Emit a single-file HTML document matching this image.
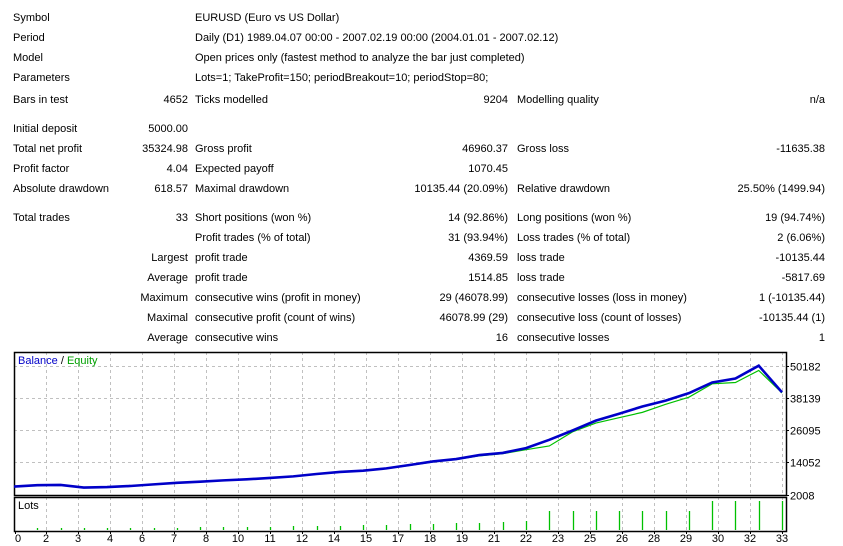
<!DOCTYPE html>
<html><head><meta charset="utf-8">
<style>
body{margin:0;width:843px;height:546px;background:#fff;font-family:"Liberation Sans","DejaVu Sans",sans-serif;font-size:11px;color:#000;position:relative;overflow:hidden}
.t{position:absolute;white-space:nowrap;line-height:13px}
.r{text-align:right}
</style></head><body>
<div id="report"></div>
<svg id="chart" width="843" height="546" style="position:absolute;left:0;top:0"></svg>
<script>
const rows=[
[18,"Symbol","", "EURUSD (Euro vs US Dollar)","","",""],
[38,"Period","", "Daily (D1) 1989.04.07 00:00 - 2007.02.19 00:00 (2004.01.01 - 2007.02.12)","","",""],
[58,"Model","", "Open prices only (fastest method to analyze the bar just completed)","","",""],
[78,"Parameters","", "Lots=1; TakeProfit=150; periodBreakout=10; periodStop=80;","","",""],
[100,"Bars in test","4652","Ticks modelled","9204","Modelling quality","n/a"],
[129,"Initial deposit","5000.00","","","",""],
[149,"Total net profit","35324.98","Gross profit","46960.37","Gross loss","-11635.38"],
[169,"Profit factor","4.04","Expected payoff","1070.45","",""],
[189,"Absolute drawdown","618.57","Maximal drawdown","10135.44 (20.09%)","Relative drawdown","25.50% (1499.94)"],
[218,"Total trades","33","Short positions (won %)","14 (92.86%)","Long positions (won %)","19 (94.74%)"],
[238,"","", "Profit trades (% of total)","31 (93.94%)","Loss trades (% of total)","2 (6.06%)"],
[258,"","Largest","profit trade","4369.59","loss trade","-10135.44"],
[278,"","Average","profit trade","1514.85","loss trade","-5817.69"],
[298,"","Maximum","consecutive wins (profit in money)","29 (46078.99)","consecutive losses (loss in money)","1 (-10135.44)"],
[318,"","Maximal","consecutive profit (count of wins)","46078.99 (29)","consecutive loss (count of losses)","-10135.44 (1)"],
[338,"","Average","consecutive wins","16","consecutive losses","1"]];
const rep=document.getElementById('report');
function cell(txt,x,y,right,name){if(!txt)return;const d=document.createElement('div');


d.className='t'+(right?' r':'');d.textContent=txt;d.style.top=(y-6)+'px';
if(right){d.style.right=(843-x)+'px';}else d.style.left=x+'px';rep.appendChild(d);}
rows.forEach(r=>{cell(r[1],13,r[0],false,'row-label');cell(r[2],188,r[0],true,'row-value');
cell(r[3],195,r[0],false,'col2-label');cell(r[4],508,r[0],true,'col2-value');
cell(r[5],517,r[0],false,'col3-label');cell(r[6],825,r[0],true,'col3-value');});

// chart data
const balance=[5000,5500,5600,4600,4800,5200,5800,6400,6800,7300,7700,8200,8800,9700,10450,10930,11800,13070,14400,15300,16800,17600,19400,22500,26000,29700,32300,35000,37200,40000,44000,45500,50300,40320];
const equity=[5000,5450,5550,4550,4750,5150,5750,6350,6750,7250,7650,8150,8700,9600,10350,10850,11700,12900,14200,15100,16500,17300,18800,20200,25500,28800,30800,32800,35800,38500,43500,44000,48500,40100];
const lots=[0,0.2,0.2,0.2,0.2,0.2,0.2,0.2,0.3,0.3,0.3,0.3,0.4,0.4,0.4,0.5,0.5,0.6,0.6,0.7,0.7,0.8,0.9,1.9,1.9,1.9,1.9,1.9,1.9,1.9,2.9,2.9,2.9,2.9];
const yTicks=[2008,14052,26095,38139,50182];
const xLabels=[0,2,3,4,6,7,8,10,11,12,14,15,17,18,19,21,22,23,25,26,28,29,30,32,33];

const svg=document.getElementById('chart');const NS='http://www.w3.org/2000/svg';
function el(t,a,name){const e=document.createElementNS(NS,t);for(const k in a)e.setAttribute(k,a[k]);


svg.appendChild(e);return e;}
const L=14,R=786,T=352,B=495,LT=497,LB=531;
const nT=balance.length-1;
const xs=i=>14+(782-14)*i/nT;
const ys=v=>494.5-(v-2008)*(494.5-366)/(50182-2008);
const ly=v=>LB-1-v*10;
// grid
for(let k=1;k<xLabels.length;k++){const x=46+32*(k-1);
el('line',{x1:x+.5,y1:T,x2:x+.5,y2:B,stroke:'#c0c0c0','stroke-dasharray':'3,3'},'v-grid');
el('line',{x1:x+.5,y1:LT,x2:x+.5,y2:LB,stroke:'#c0c0c0','stroke-dasharray':'3,3'},'v-grid-lots');}
yTicks.forEach(v=>{const y=Math.round(ys(v))+.5;
if(v>2008)el('line',{x1:L,y1:y,x2:R,y2:y,stroke:'#c0c0c0','stroke-dasharray':'3,3'},'h-grid');
el('line',{x1:R,y1:y,x2:R+3,y2:y,stroke:'#000'},'y-tick');
const t=el('text',{x:R+4,y:y+4,'font-size':'11','font-family':'Liberation Sans, sans-serif'},'y-tick-label');t.textContent=v;});
// frames
el('rect',{x:L+.5,y:T+.5,width:R-L,height:B-T,fill:'none',stroke:'#000','stroke-width':1.5},'chart-frame');
el('rect',{x:L+.5,y:LT+.5,width:R-L,height:LB-LT,fill:'none',stroke:'#000','stroke-width':1.5},'lots-frame');
// x labels
xLabels.forEach((v,k)=>{const x=k==0?15:46+32*(k-1);const t=el('text',{x:x,y:542,'font-size':'11','text-anchor':k==0?'start':'middle','font-family':'Liberation Sans, sans-serif'},'x-tick-label');t.textContent=v;
el('line',{x1:x+.5,y1:LB,x2:x+.5,y2:LB+3,stroke:'#000'},'x-tick');});
// lots bars
lots.forEach((v,i)=>{if(v<=0)return;const x=Math.round(xs(i))+.5;el('line',{x1:x,y1:LB-1,x2:x,y2:ly(v),stroke:'#00c000','stroke-width':1.3},'lots-bar');});
// lines
el('polyline',{points:equity.map((v,i)=>xs(i)+','+ys(v)).join(' '),fill:'none',stroke:'#00c000','stroke-width':1.2},'equity-line');
el('polyline',{points:balance.map((v,i)=>xs(i)+','+ys(v)).join(' '),fill:'none',stroke:'#0000c8','stroke-width':2.6},'balance-line');
// legends
const lg=el('text',{x:18,y:364,'font-size':'11','font-family':'Liberation Sans, sans-serif'},'legend');
lg.innerHTML='<tspan fill="#0000c8">Balance</tspan><tspan fill="#000"> / </tspan><tspan fill="#00a000">Equity</tspan>';
const ll=el('text',{x:18,y:509,'font-size':'11','font-family':'Liberation Sans, sans-serif'},'lots-label');ll.textContent='Lots';
</script>
</body></html>
